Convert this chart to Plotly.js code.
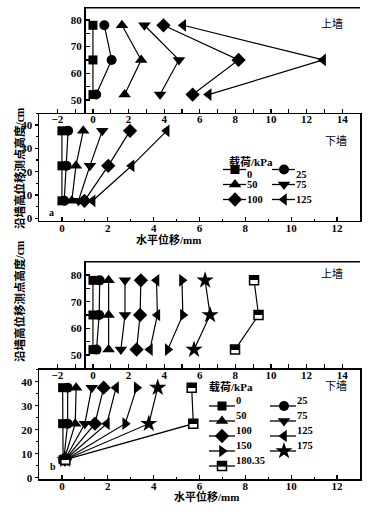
<!DOCTYPE html>
<html><head><meta charset="utf-8">
<script src="https://cdn.plot.ly/plotly-3.0.1.min.js"></script>
<style>html,body{margin:0;padding:0;background:#fff}#chart{width:371px;height:514px}</style>
</head><body><div id="chart"></div>
<script>
// ---------------- data ----------------
const upperHeights = [78, 65, 52];        // cm, 上墙 measuring points
const lowerHeights = [37.5, 22.5, 7.5];   // cm, 下墙 measuring points
const loadLabelsA = ['0', '25', '50', '75', '100', '125'];
const loadLabelsB = ['0', '25', '50', '75', '100', '125', '150', '175', '180.35'];

// panel a – upper wall (mm)
const aUpper0   = [0, 0, 0];
const aUpper25  = [0.64, 1.05, 0.18];
const aUpper50  = [1.63, 2.71, 1.78];
const aUpper75  = [2.89, 4.83, 3.77];
const aUpper100 = [3.96, 8.18, 5.6];
const aUpper125 = [5.07, 12.93, 6.5];
// panel a – lower wall
const aLower0   = [0, 0, 0];
const aLower25  = [0.27, 0.2, 0.1];
const aLower50  = [0.93, 0.61, 0.43];
const aLower75  = [1.76, 1.22, 0.72];
const aLower100 = [2.97, 2.02, 0.98];
const aLower125 = [4.57, 3.04, 1.34];
// panel b – upper wall
const bUpper0   = [0, 0, 0];
const bUpper25  = [0.38, 0.35, 0.2];
const bUpper50  = [0.88, 0.88, 0.88];
const bUpper75  = [1.8, 1.8, 1.57];
const bUpper100 = [2.69, 2.65, 2.45];
const bUpper125 = [3.57, 3.62, 3.2];
const bUpper150 = [5.0, 5.05, 4.2];
const bUpper175 = [6.3, 6.58, 5.68];
const bUpper180 = [9.05, 9.3, 7.98];
// panel b – lower wall
const bLower0   = [0.03, 0.03, 0.05];
const bLower25  = [0.25, 0.25, 0.08];
const bLower50  = [0.62, 0.58, 0.1];
const bLower75  = [1.3, 1.0, 0.12];
const bLower100 = [1.82, 1.44, 0.13];
const bLower125 = [2.36, 1.96, 0.13];
const bLower150 = [3.26, 2.76, 0.14];
const bLower175 = [4.18, 3.79, 0.14];
const bLower180 = [5.66, 5.73, 0.15];

const aUpper = [aUpper0, aUpper25, aUpper50, aUpper75, aUpper100, aUpper125];
const aLower = [aLower0, aLower25, aLower50, aLower75, aLower100, aLower125];
const bUpper = [bUpper0, bUpper25, bUpper50, bUpper75, bUpper100, bUpper125, bUpper150, bUpper175, bUpper180];
const bLower = [bLower0, bLower25, bLower50, bLower75, bLower100, bLower125, bLower150, bLower175, bLower180];

// ---------------- style ----------------
const W = 371, H = 514;
const fx = p => p / W, fy = p => 1 - p / H;
const FONT = 'Liberation Serif, Times New Roman, Noto Sans CJK SC, serif';
const CJK = 'Liberation Serif, Noto Sans CJK SC, sans-serif';
const symbols = ['square', 'circle', 'triangle-up', 'triangle-down', 'diamond', 'triangle-left', 'triangle-right', 'star', 'square'];
const sizes = [9, 10, 11, 11, 11, 11, 11, 13, 9];

function markerFor(i) {
  const m = {symbol: symbols[i], size: sizes[i], color: '#000', line: {width: 0, color: '#000'}};
  if (i === 8) { m.gradient = {type: 'vertical', color: '#fff'}; m.line = {width: 1.5, color: '#000'}; }
  return m;
}
function series(x, y, xa, ya, i, name) {
  return {x: x, y: y, xaxis: xa, yaxis: ya, type: 'scatter', mode: 'lines+markers', name: name,
    showlegend: false, line: {color: '#000', width: 1.2}, marker: markerFor(i), cliponaxis: false, hoverinfo: 'skip'};
}

const traces = [];
aUpper.forEach((xs, i) => traces.push(series(xs, upperHeights, 'x', 'y', i, loadLabelsA[i])));
aLower.forEach((xs, i) => traces.push(series(xs, lowerHeights, 'x2', 'y2', i, loadLabelsA[i])));
bUpper.forEach((xs, i) => traces.push(series(xs, upperHeights, 'x4', 'y3', i, loadLabelsB[i])));
bLower.forEach((xs, i) => traces.push(series(xs, lowerHeights, 'x5', 'y4', i, loadLabelsB[i])));

// ---------------- hand-laid legends ----------------
const annotations = [];
const shapes = [];
function ann(text, px, py, opt) {
  annotations.push(Object.assign({text: text, x: fx(px), y: fy(py), xref: 'paper', yref: 'paper',
    showarrow: false, borderpad: 0, borderwidth: 0,
    font: {family: CJK, size: 11, color: '#000', weight: 'bold'}}, opt || {}));
}
function hline(x0, x1, py, w) {
  shapes.push({type: 'line', xref: 'paper', yref: 'paper', x0: fx(x0), x1: fx(x1), y0: fy(py), y1: fy(py),
    line: {color: '#000', width: w}});
}
function legendBlock(labels, titleX, titleY, rowY0, rowDy, col1, col2) {
  ann('载荷/kPa', titleX, titleY, {xanchor: 'left'});
  labels.forEach((lab, i) => {
    const col = i % 2 === 0 ? col1 : col2;
    const py = rowY0 + Math.floor(i / 2) * rowDy;
    hline(col.x0, col.x1, py, 1.3);
    traces.push({x: [col.xm], y: [py], xaxis: 'x7', yaxis: 'y5', type: 'scatter',
      mode: 'markers', showlegend: false, hoverinfo: 'skip', cliponaxis: false,
      marker: markerFor(i), name: lab});
    ann(lab, col.x1 + 1, py, {xanchor: 'left', font: {family: FONT, size: 10.5, color: '#000', weight: 'bold'}});
  });
}
legendBlock(loadLabelsA, 229, 154.5, 169.5, 15, {x0: 223, xm: 235, x1: 246}, {x0: 272, xm: 284, x1: 295});
legendBlock(loadLabelsB, 209, 393, 406, 15, {x0: 209, xm: 222, x1: 235}, {x0: 270, xm: 284, x1: 296});

// ---------------- texts ----------------
ann('上墙', 343, 17, {font: {family: CJK, size: 11, color: '#000'}});
ann('下墙', 347, 134, {font: {family: CJK, size: 11, color: '#000'}});
ann('上墙', 343, 273, {font: {family: CJK, size: 11, color: '#000'}});
ann('下墙', 347, 392, {font: {family: CJK, size: 11, color: '#000'}});
ann('a', 49, 212, {font: {family: FONT, size: 10, color: '#000', weight: 'bold'}});
ann('b', 50, 472, {font: {family: FONT, size: 10, color: '#000', weight: 'bold'}});
ann('沿墙高位移测点高度/cm', 12.5, 107, {textangle: -90, font: {family: CJK, size: 11.5, color: '#000', weight: 'bold'}});
ann('沿墙高位移测点高度/cm', 12.5, 362, {textangle: -90, font: {family: CJK, size: 11.5, color: '#000', weight: 'bold'}});
ann('水平位移/mm', 168, 239);
ann('水平位移/mm', 207, 503);

// ---------------- axes ----------------
const tf = {family: FONT, size: 11, color: '#000', weight: 'bold'};
const base = {showline: true, linecolor: '#000', linewidth: 1.5, showgrid: false, zeroline: false,
  tickcolor: '#000', tickwidth: 1.2, tickfont: tf, fixedrange: true};
// upper wall: x axis spans the full width; its labels sit just under the shared line
function upperX(anchor) {
  return Object.assign({}, base, {domain: [fx(39), fx(360)], range: [-3.03, 15], anchor: anchor,
    side: 'bottom', ticks: 'inside', ticklen: 4, dtick: 2, tick0: 0, ticklabelstandoff: -4,
    minor: {ticks: 'inside', dtick: 1, ticklen: 4, tickcolor: '#000', tickwidth: 1.2}});
}
function upperY(top, bot, r) {
  return Object.assign({}, base, {domain: [fy(bot), fy(top)], range: r, anchor: 'free', position: fx(84),
    ticks: 'inside', ticklen: 4, tickvals: [50, 60, 70, 80], mirror: true,
    minor: {ticks: 'inside', ticklen: 4, tickvals: [55, 65, 75], tickcolor: '#000', tickwidth: 1.2}});
}
function lowerX(anchor, so) {
  return Object.assign({}, base, {domain: [fx(39), fx(360)], range: [-1, 13], anchor: anchor, ticks: 'inside',
    ticklen: 4, dtick: 2, tick0: 0, ticklabelstandoff: so,
    minor: {ticks: 'inside', dtick: 1, ticklen: 2, tickcolor: '#000'}});
}
function lowerY(anchor, top, bot, r) {
  return Object.assign({}, base, {domain: [fy(bot), fy(top)], range: r, anchor: anchor, ticks: 'outside',
    ticklen: 3, dtick: 10, tick0: 0, mirror: true,
    minor: {ticks: 'outside', dtick: 5, ticklen: 2, tickcolor: '#000'}});
}
hline(84, 360, 7.7, 1.5);
hline(84, 360, 261.7, 1.5);

const layout = {
  width: W, height: H, margin: {l: 0, r: 0, t: 0, b: 0, autoexpand: false},
  paper_bgcolor: '#fff', plot_bgcolor: 'rgba(0,0,0,0)', showlegend: false,
  xaxis: upperX('y'),
  yaxis: upperY(7.7, 112.7, [45.2, 84.6]),
  xaxis2: lowerX('y2', -3),
  yaxis2: lowerY('x2', 112.7, 220.5, [-0.94, 45.27]),
  xaxis4: upperX('y3'),
  yaxis3: upperY(261.7, 368, [45.1, 85.0]),
  xaxis5: lowerX('y4', -4),
  yaxis4: lowerY('x5', 368, 479, [-0.54, 45.7]),
  xaxis7: {domain: [0, 1], range: [0, W], visible: false, fixedrange: true, anchor: 'y5'},
  yaxis5: {domain: [0, 1], range: [H, 0], visible: false, fixedrange: true, anchor: 'x7'},
  shapes: shapes,
  annotations: annotations
};

Plotly.newPlot('chart', traces, layout, {staticPlot: true, displayModeBar: false}).then(gd => {
  // make the 180.35 marker half black (top) / half white (bottom) with a sharp edge
  gd.querySelectorAll('linearGradient').forEach(g => {
    const st = g.querySelectorAll('stop');
    if (st.length < 2) return;
    const a = st[0], b = st[st.length - 1];
    const ca = a.getAttribute('stop-color'), cb = b.getAttribute('stop-color');
    const oa = a.getAttribute('stop-opacity') || 1, ob = b.getAttribute('stop-opacity') || 1;
    while (g.firstChild) g.removeChild(g.firstChild);
    [[0, ca, oa], [0.5, ca, oa], [0.5, cb, ob], [1, cb, ob]].forEach(s => {
      const e = document.createElementNS('http://www.w3.org/2000/svg', 'stop');
      e.setAttribute('offset', s[0]); e.setAttribute('stop-color', s[1]); e.setAttribute('stop-opacity', s[2]);
      g.appendChild(e);
    });
  });
});
</script></body></html>
